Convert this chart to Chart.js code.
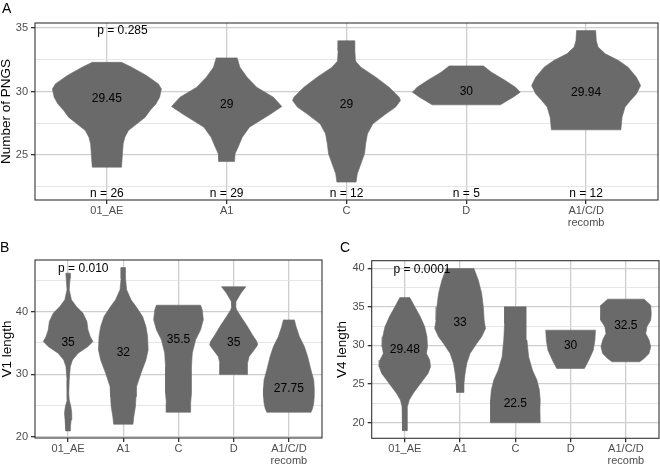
<!DOCTYPE html>
<html>
<head>
<meta charset="utf-8">
<script src="https://cdn.jsdelivr.net/npm/chart.js@4.4.0/dist/chart.umd.min.js"></script>
<style>
  html, body { margin: 0; padding: 0; background: #fff; }
  #wrap { position: relative; width: 660px; height: 466px; overflow: hidden; font-family: "Liberation Sans", Arial, sans-serif; }
  .box { position: absolute; }
  .tag { position: absolute; font-size: 14px; line-height: 1; color: #000; }
</style>
</head>
<body>
<div id="wrap">
  <div class="box" style="left:0;top:0;width:660px;height:240px"><canvas id="chartA"></canvas></div>
  <div class="box" style="left:0;top:240px;width:330px;height:226px"><canvas id="chartB"></canvas></div>
  <div class="box" style="left:330px;top:240px;width:330px;height:226px"><canvas id="chartC"></canvas></div>
  <div class="tag" style="left:2px;top:1px">A</div>
  <div class="tag" style="left:0px;top:240px">B</div>
  <div class="tag" style="left:340px;top:240px">C</div>
</div>
<script>
// ─── Shared ───
const groupLabels = ['01_AE', 'A1', 'C', 'D', ['A1/C/D', 'recomb']];

// ─── Panel A: Number of PNGS ───
const pngsCounts = [26, 29, 12, 5, 12];
const pngsMedians = ['29.45', '29', '29', '30', '29.94'];
const pngsMajor = [25, 30, 35];
const pngsMinor = [22.5, 27.5, 32.5];
// outlines: [value, half width in group units]
const pngs01AE = [[24.04, .122], [25.88, .136], [26.4, .15], [26.93, .18], [27.45, .25], [27.98, .32], [28.5, .36], [29.03, .41], [29.55, .44], [30.2, .455], [30.6, .43], [31.26, .33], [31.92, .206], [32.3, .122]];
const pngsA1 = [[24.48, .065], [25.09, .07], [25.61, .095], [26.4, .13], [27.19, .19], [27.72, .28], [28.24, .37], [28.82, .46], [29.55, .39], [30.34, .25], [31.13, .17], [31.92, .11], [32.65, .0875]];
const pngsC = [[22.86, .08], [23.51, .09], [24.3, .12], [25.09, .15], [25.88, .16], [26.67, .175], [27.45, .22], [28.24, .33], [28.77, .41], [29.29, .45], [29.55, .44], [30.34, .355], [31.13, .245], [31.92, .12], [32.4, .075], [33.2, .07], [34.0, .07]];
const pngsD = [[28.95, .285], [29.16, .32], [29.55, .39], [29.95, .45], [30.34, .41], [30.87, .325], [31.52, .21], [32.02, .143]];
const pngsACD = [[26.98, .29], [27.98, .30], [28.77, .325], [29.29, .37], [29.81, .42], [30.47, .455], [31.13, .42], [31.92, .35], [32.45, .27], [32.97, .16], [33.5, .1], [34.0, .085], [34.8, .08]];

// ─── Panel B: V1 length ───
const v1Medians = ['35', '32', '35.5', '35', '27.75'];
const v1Major = [20, 30, 40];
const v1Minor = [25, 35, 45];
const v1_01AE = [[20.93, .04], [21.62, .042], [22.69, .055], [23.76, .066], [24.82, .05], [25.89, .02], [26.96, .012], [29.09, .02], [31.22, .04], [32.29, .08], [33.36, .18], [34.42, .36], [35.22, .45], [36.02, .40], [37.09, .36], [38.42, .34], [39.75, .27], [40.82, .15], [41.9, .06], [43.5, .02], [45.3, .035], [46.16, .042]];
const v1A1 = [[22.0, .175], [23.22, .19], [24.82, .22], [26.42, .23], [28.02, .24], [30.16, .32], [32.29, .41], [33.89, .45], [36.02, .44], [37.62, .41], [39.22, .35], [40.82, .23], [41.9, .14], [43.5, .06], [45.3, .04], [47.06, .04]];
const v1C = [[23.92, .22], [25.4, .22], [27.0, .235], [29.1, .235], [31.2, .235], [33.4, .25], [35.5, .31], [37.1, .40], [38.7, .45], [40.3, .43], [41.04, .40]];
const v1D = [[29.94, .25], [31.76, .25], [32.82, .28], [33.89, .37], [34.69, .435], [35.22, .42], [36.29, .34], [37.62, .25], [39.22, .13], [40.29, .055], [40.82, .035], [41.6, .04], [42.94, .13], [44.0, .22]];
const v1ACD = [[23.92, .40], [24.56, .43], [25.36, .45], [26.42, .46], [27.76, .46], [29.09, .45], [30.69, .40], [32.82, .34], [34.42, .28], [36.02, .19], [37.62, .13], [38.69, .10]];

// ─── Panel C: V4 length ───
const v4Medians = ['29.48', '33', '22.5', '30', '32.5'];
const v4Major = [20, 25, 30, 35, 40];
const v4Minor = [22.5, 27.5, 32.5, 37.5];
const v4_01AE = [[18.96, .045], [20.77, .04], [22.06, .05], [22.92, .08], [23.79, .15], [24.65, .24], [25.51, .33], [26.38, .42], [27.24, .465], [28.1, .45], [28.96, .39], [29.82, .41], [31.12, .40], [32.41, .36], [33.71, .28], [35.0, .18], [36.2, .09]];
const v4A1 = [[23.91, .06], [25.08, .07], [26.38, .09], [27.67, .12], [28.96, .18], [30.26, .30], [31.12, .39], [32.2, .46], [33.28, .435], [35.0, .42], [36.73, .39], [38.46, .33], [39.97, .25]];
const v4C = [[19.99, .45], [21.63, .445], [22.92, .45], [24.22, .435], [25.51, .39], [26.8, .31], [28.53, .24], [30.69, .21], [32.84, .195], [35.0, .196]];
const v4D = [[27.02, .25], [28.1, .33], [29.39, .41], [30.69, .44], [31.98, .45]];
const v4ACD = [[27.88, .25], [28.32, .33], [28.96, .42], [29.82, .45], [30.69, .42], [31.55, .36], [32.41, .38], [33.28, .45], [34.14, .46], [35.22, .45], [36.0, .33]];

// ─── Style ───
const FONT = '"Liberation Sans", Arial, Helvetica, sans-serif';
const VIOLIN = '#6a6a6a';
const GRID_MAJOR = '#cecece';
const GRID_MINOR = '#e0e0e0';

Chart.defaults.font.family = FONT;
Chart.defaults.animation = false;

// text labels + panel frame
const panelDecor = {
    id: 'panelDecor',
    afterDatasetsDraw(chart, args, opts) {
        const { ctx, chartArea: a, scales: { x, y } } = chart;
        ctx.save();
        ctx.font = '12px ' + FONT;
        ctx.fillStyle = '#000';
        ctx.textAlign = 'center';
        ctx.textBaseline = 'middle';
        (opts.items || []).forEach(it => {
            ctx.fillText(it.text, x.getPixelForValue(it.x), y.getPixelForValue(it.y));
        });
        ctx.strokeStyle = '#333';
        ctx.lineWidth = 1.1;
        ctx.strokeRect(a.left, a.top, a.right - a.left, a.bottom - a.top);
        ctx.restore();
    }
};

function violinDataset(profile, center) {
    const right = profile.map(([v, w]) => ({ x: center + w, y: v }));
    const left = profile.slice().reverse().map(([v, w]) => ({ x: center - w, y: v }));
    const pts = right.concat(left);
    pts.push(right[0]);
    return {
        data: pts,
        showLine: true,
        fill: 'shape',
        backgroundColor: VIOLIN,
        borderColor: VIOLIN,
        borderWidth: 0.6,
        pointRadius: 0,
        tension: 0
    };
}

function createViolinPanel(canvasId, cfg) {
    const canvas = document.getElementById(canvasId);
    const major = cfg.major, minor = cfg.minor;
    const isMinor = v => minor.includes(v);

    return new Chart(canvas.getContext('2d'), {
        type: 'scatter',
        data: { datasets: cfg.profiles.map((p, i) => violinDataset(p, i + 1)) },
        options: {
            responsive: true,
            maintainAspectRatio: false,
            events: [],
            layout: { padding: cfg.padding },
            plugins: {
                legend: { display: false },
                tooltip: { enabled: false },
                panelDecor: { items: cfg.items }
            },
            scales: {
                x: {
                    type: 'linear', min: 0.4, max: 5.6, bounds: 'data',
                    afterBuildTicks: s => { s.ticks = groupLabels.map((_, i) => ({ value: i + 1 })); },
                    afterFit: s => { s.height = cfg.xHeight; },
                    border: { display: false },
                    grid: { color: GRID_MAJOR, lineWidth: 1.3, tickColor: '#333', tickLength: 4 },
                    ticks: {
                        autoSkip: false, maxRotation: 0, padding: 1,
                        color: '#4d4d4d', font: { size: 11, lineHeight: 1.1 },
                        callback: (v, i) => groupLabels[i]
                    }
                },
                y: {
                    type: 'linear', min: cfg.yMin, max: cfg.yMax, bounds: 'data',
                    afterBuildTicks: s => {
                        s.ticks = major.concat(minor).sort((a, b) => a - b).map(v => ({ value: v }));
                    },
                    afterFit: s => { s.width = cfg.yWidth; },
                    border: { display: false },
                    grid: {
                        color: c => isMinor(c.tick.value) ? GRID_MINOR : GRID_MAJOR,
                        lineWidth: c => isMinor(c.tick.value) ? 0.8 : 1.3,
                        tickColor: c => isMinor(c.tick.value) ? 'rgba(0,0,0,0)' : '#333',
                        tickLength: 4
                    },
                    ticks: {
                        padding: 3, color: '#4d4d4d', font: { size: 11 },
                        callback: v => isMinor(v) ? '' : String(v)
                    },
                    title: {
                        display: true, text: cfg.yTitle, color: '#000',
                        padding: 0, font: { size: 13.5, lineHeight: cfg.titleLH }
                    }
                }
            }
        },
        plugins: [panelDecor]
    });
}

function labelItems(texts, ys) {
    return texts.map((t, i) => ({ text: t, x: i + 1, y: ys[i] }));
}

// ─── Panel A ───
createViolinPanel('chartA', {
    profiles: [pngs01AE, pngsA1, pngsC, pngsD, pngsACD],
    major: pngsMajor, minor: pngsMinor,
    yMin: 21.45, yMax: 35.4,
    yTitle: 'Number of PNGS', titleLH: 0.9,
    padding: { left: 0, right: 2, top: 23, bottom: 0 },
    yWidth: 35, xHeight: 40,
    items: labelItems(pngsMedians, pngsMedians.map(Number))
        .concat(pngsCounts.map((n, i) => ({ text: 'n = ' + n, x: i + 1, y: 21.95 })))
        .concat([{ text: 'p = 0.285', x: 1.13, y: 34.76 }])
});

// ─── Panel B ───
createViolinPanel('chartB', {
    profiles: [v1_01AE, v1A1, v1C, v1D, v1ACD],
    major: v1Major, minor: v1Minor,
    yMin: 19.8, yMax: 48.27,
    yTitle: 'V1 length', titleLH: 1.1,
    padding: { left: 0, right: 8, top: 20, bottom: 0 },
    yWidth: 35, xHeight: 28,
    items: labelItems(v1Medians, [35, 33.45, 35.5, 35, 27.75])
        .concat([{ text: 'p = 0.010', x: 1.275, y: 46.95 }])
});

// ─── Panel C ───
createViolinPanel('chartC', {
    profiles: [v4_01AE, v4A1, v4C, v4D, v4ACD],
    major: v4Major, minor: v4Minor,
    yMin: 17.97, yMax: 40.98,
    yTitle: 'V4 length', titleLH: 1.1,
    padding: { left: 5.1, right: 1, top: 20.7, bottom: 0 },
    yWidth: 36.6, xHeight: 27.7,
    items: labelItems(v4Medians, v4Medians.map(Number))
        .concat([{ text: 'p = 0.0001', x: 1.31, y: 39.84 }])
});
</script>
</body>
</html>
